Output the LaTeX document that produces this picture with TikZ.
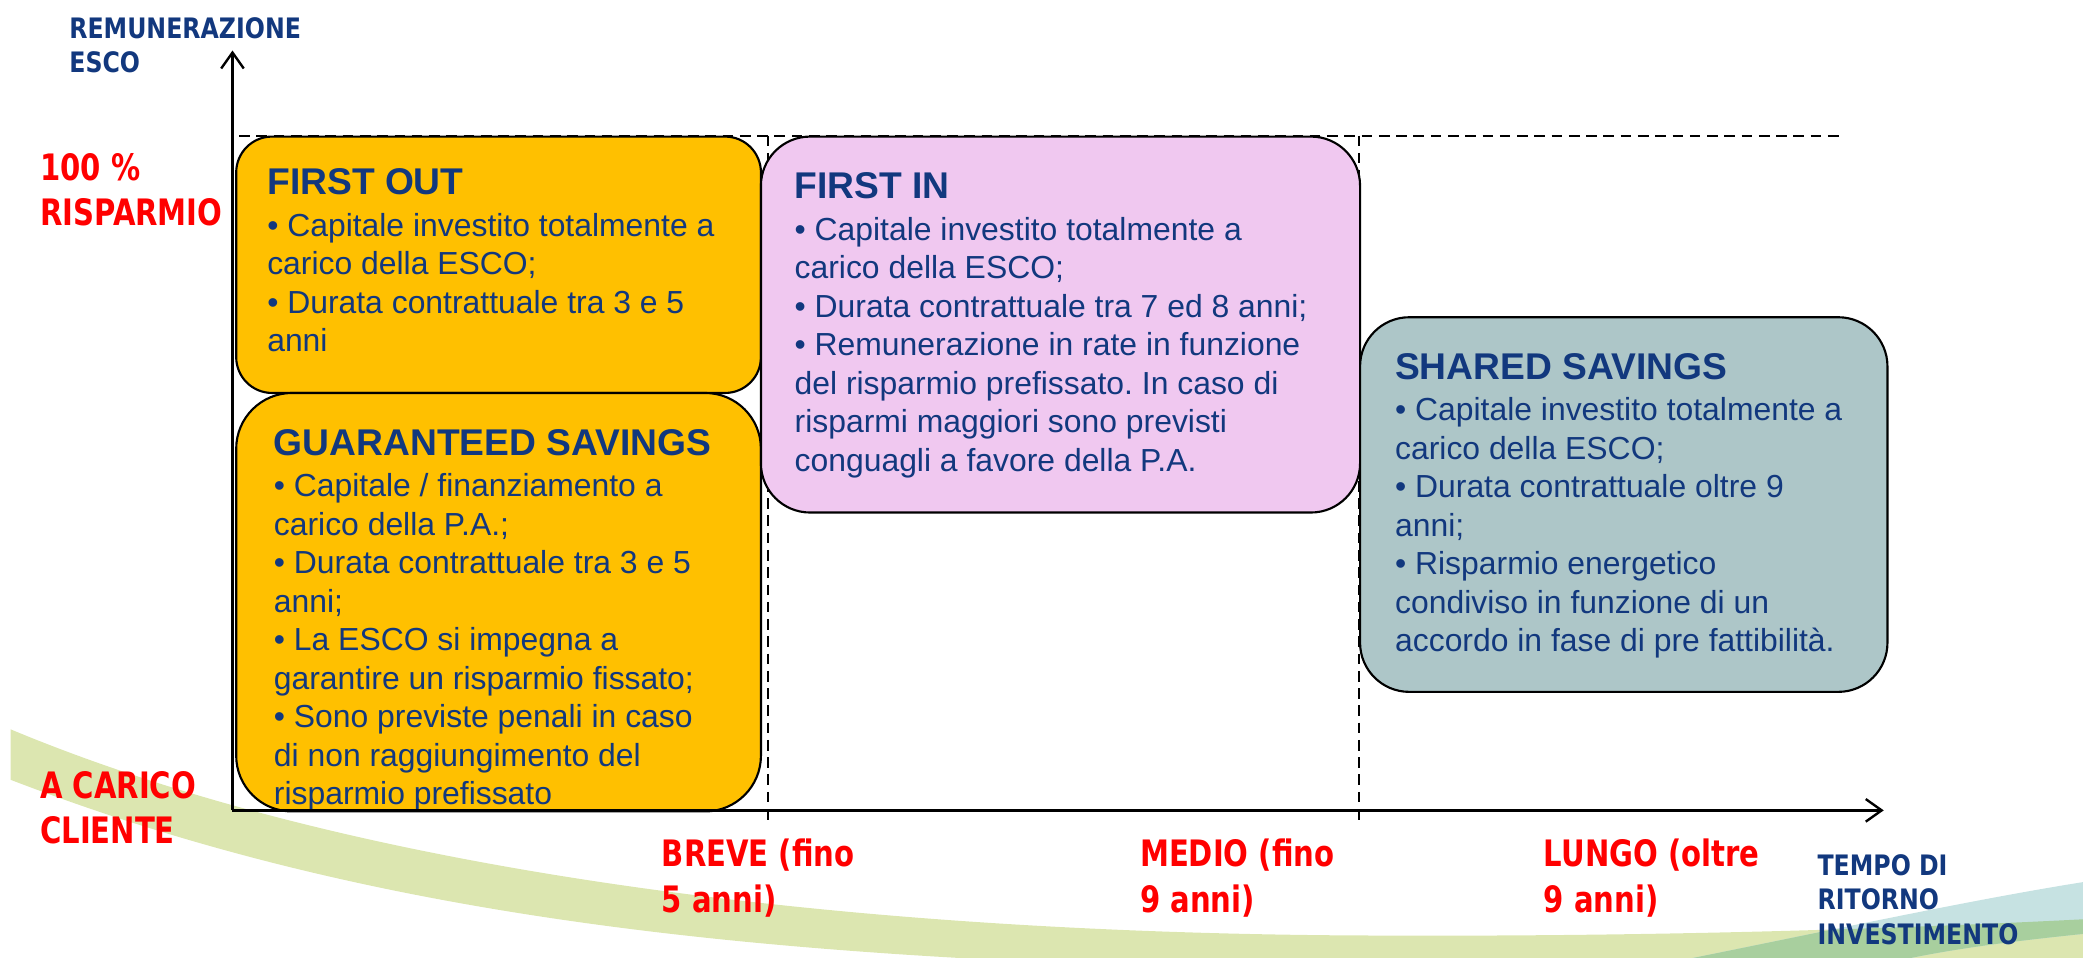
\documentclass[tikz,border=0pt]{standalone}
\usepackage{fontspec}
\setmainfont{Liberation Sans}
\newfontfamily\labfont[FakeStretch=0.8]{DejaVu Sans}
\newfontfamily\axfont[FakeStretch=0.84]{DejaVu Sans}
\usetikzlibrary{positioning,arrows.meta}
\frenchspacing

\definecolor{escoblue}{HTML}{12387E}
\definecolor{outyellow}{HTML}{FFC000}
\definecolor{inpink}{HTML}{F0C8F0}
\definecolor{sharedgrey}{HTML}{ADC6C8}
\definecolor{swooshgreen}{HTML}{DCE6B0}
\definecolor{swooshblue}{HTML}{C6E2E2}
\definecolor{swooshmix}{HTML}{A8CF9E}

\newcommand\cardtitle[1]{{\fontsize{28}{29}\selectfont\bfseries #1}}

\begin{document}
\begin{tikzpicture}[x=1pt,y=-1pt,
    axis/.style={line width=1.8pt,-{Straight Barb[length=12pt,width=17pt,line width=1.8pt]}},
    guide/.style={line width=1.5pt,dash pattern=on 8pt off 5pt},
    card/.style={draw,line width=1.6pt,anchor=north west,inner sep=0pt},
    cardtext/.style={inner sep=0pt,align=left,text=escoblue,font=\fontsize{24}{29}\selectfont},
    redlab/.style={inner sep=0pt,align=left,anchor=west,text=red,font=\labfont\bfseries\fontsize{27.4}{34}\selectfont},
    bluelab/.style={inner sep=0pt,align=left,anchor=west,text=escoblue,font=\axfont\bfseries\fontsize{21.2}{26}\selectfont}]
      \useasboundingbox (0,0) rectangle (1568,721);

      \path [save path=\greenband] (8,549) .. controls (250,650) and (600,700) .. (1000,704) .. controls (1250,706) and (1450,698) .. (1568,692) -- (1568,725) -- (800,725) .. controls (500,712) and (250,680) .. (8,587) -- cycle;
      \path [save path=\blueband] (1255,725) .. controls (1380,700) and (1480,678) .. (1568,664) -- (1568,703) .. controls (1500,710) and (1460,716) .. (1420,725) -- cycle;
      \fill [swooshgreen,use path=\greenband];
      \fill [swooshblue,use path=\blueband];
      \begin{scope}
        \clip [use path=\greenband];
        \fill [swooshmix,use path=\blueband];
      \end{scope}

      \coordinate (gtl) at (180,102);
      \coordinate (gtr) at (1388,102);
      \coordinate (g5t) at (578,102);
      \coordinate (g5b) at (578,618);
      \coordinate (g9t) at (1023,102);
      \coordinate (g9b) at (1023,618);
      \draw [guide] (gtl) -- (gtr);
      \draw [guide] (g5t) -- (g5b);
      \draw [guide] (g9t) -- (g9b);

      \node [card,fill=outyellow,rounded corners=27pt,minimum width=395pt,minimum height=193pt] (firstout) at (177,102) {};
      \node [card,fill=outyellow,rounded corners=42pt,minimum width=395pt,minimum height=315pt] (guaranteed) at (177,295) {};
      \node [card,fill=inpink,rounded corners=37pt,minimum width=451pt,minimum height=283pt] (firstin) at (572,102) {};
      \node [card,fill=sharedgrey,rounded corners=37pt,minimum width=397pt,minimum height=282pt] (shared) at (1023,238) {};

      \node [cardtext,below right=25pt and 24pt of firstout.north west] (firstouttxt) {\cardtitle{FIRST OUT}\\[2pt]
        • Capitale investito totalmente a\\carico della ESCO;\\• Durata contrattuale tra 3 e 5\\anni};
      \node [cardtext,below right=28pt and 29pt of guaranteed.north west] (guaranteedtxt) {\cardtitle{GUARANTEED SAVINGS}\\[2pt]
        • Capitale / finanziamento a\\carico della P.A.;\\• Durata contrattuale tra 3 e 5\\anni;\\• La ESCO si impegna a\\garantire un risparmio fissato;\\• Sono previste penali in caso\\di non raggiungimento del\\risparmio prefissato};
      \node [cardtext,below right=28pt and 26pt of firstin.north west] (firstintxt) {\cardtitle{FIRST IN}\\[2pt]
        • Capitale investito totalmente a\\carico della ESCO;\\• Durata contrattuale tra 7 ed 8 anni;\\• Remunerazione in rate in funzione\\del risparmio prefissato. In caso di\\risparmi maggiori sono previsti\\conguagli a favore della P.A.};
      \node [cardtext,below right=28pt and 27pt of shared.north west] (sharedtxt) {\cardtitle{SHARED SAVINGS}\\[2pt]
        • Capitale investito totalmente a\\carico della ESCO;\\• Durata contrattuale oltre 9\\anni;\\• Risparmio energetico\\condiviso in funzione di un\\accordo in fase di pre fattibilità.};

      \coordinate (o) at (175,610);
      \coordinate (ytip) at (175,38);
      \coordinate (xtip) at (1418,610);
      \draw [axis] (o) -- (ytip);
      \draw [axis] (o) -- (xtip);

      \node [bluelab] (remun) at (52,34) {REMUNERAZIONE\\ESCO};
      \node [redlab] (risparmio) at (30,143) {100 \%\\RISPARMIO};
      \node [redlab] (cliente) at (30,608) {A CARICO\\CLIENTE};
      \node [redlab] (breve) at (498,661) {BREVE (fino\\5 anni)};
      \node [redlab] (medio) at (858,661) {MEDIO (fino\\9 anni)};
      \node [redlab] (lungo) at (1162,661) {LUNGO (oltre\\9 anni)};
      \node [bluelab] (tempo) at (1368,677) {TEMPO DI\\RITORNO\\INVESTIMENTO};
    \end{tikzpicture}
\end{document}
